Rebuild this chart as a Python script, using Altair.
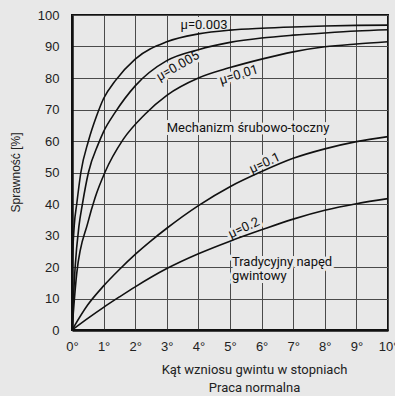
import altair as alt
import pandas as pd

# ---- data ----
series_names = ["μ=0.003", "μ=0.005", "μ=0.01", "μ=0.1", "μ=0.2"]

x_0003 = [0, 0.01, 0.07, 0.15, 0.28, 0.52, 0.78, 1.0, 1.36, 2, 3, 4, 5, 6, 7, 8, 9, 10]
y_0003 = [0, 20, 33, 40, 50, 60, 68, 73.5, 79, 86, 91.5, 94, 95.2, 95.8, 96.2, 96.5, 96.7, 96.8]

x_0005 = [0, 0.1, 0.22, 0.33, 0.52, 0.83, 1.0, 1.36, 2, 3, 4, 5, 6, 7, 8, 9, 10]
y_0005 = [0, 20, 33, 40, 50, 59, 63, 69, 77.5, 85.5, 89, 91.3, 92.7, 93.6, 94.3, 94.9, 95.3]

x_001 = [0, 0.15, 0.5, 0.73, 1.04, 1.62, 2.31, 3, 4, 5, 6, 7, 8, 9, 10]
y_001 = [0, 18, 34, 42, 50, 60.5, 68.5, 74.5, 80, 83.3, 86, 88.3, 89.9, 90.8, 91.5]

x_01 = [0, 0.5, 1, 1.5, 2, 2.5, 3, 4, 5, 6, 7, 8, 9, 10]
y_01 = [0, 8, 14, 19.2, 24, 28.3, 32.3, 39.5, 45.5, 50.3, 54.5, 57.5, 59.8, 61.4]

x_02 = [0, 0.5, 1, 1.5, 2, 3, 4, 5, 6, 7, 8, 9, 10]
y_02 = [0, 3.7, 7.2, 10.5, 13.7, 19.5, 24.2, 28.2, 31.8, 35.2, 38, 40.1, 41.7]

x_ticks = [0, 1, 2, 3, 4, 5, 6, 7, 8, 9, 10]
y_ticks = [0, 10, 20, 30, 40, 50, 60, 70, 80, 90, 100]

# curve labels (position in data units, rotation)
label_text = ["μ=0.003", "μ=0.005", "μ=0.01", "μ=0.1", "μ=0.2"]
label_x = [4.18, 3.35, 5.28, 6.1, 5.44]
label_y = [96.8, 83.8, 81.0, 53.0, 32.4]
label_rot = [0, 330, 343, 335, 335]

# region annotations
note_text = ["Mechanizm śrubowo-toczny", "Tradycyjny napęd", "gwintowy"]
note_x = [5.57, 5.06, 5.06]
note_y = [64.1, 21.6, 17.1]

BG = "#e8e8e8"

rows = []
for name, xs, ys in zip(series_names,
                        [x_0003, x_0005, x_001, x_01, x_02],
                        [y_0003, y_0005, y_001, y_01, y_02]):
    for a, b in zip(xs, ys):
        rows.append({"series": name, "angle": a, "eff": b})
df = pd.DataFrame(rows)

lab_df = pd.DataFrame({"t": label_text, "x": label_x, "y": label_y, "r": label_rot})
note_df = pd.DataFrame({"t": note_text, "x": note_x, "y": note_y})

x_scale = alt.Scale(domain=[0, 10], nice=False)
y_scale = alt.Scale(domain=[0, 100], nice=False)

x_axis = alt.Axis(
    values=x_ticks, labelExpr="datum.value + '°'", grid=True, gridColor="#4a4a4a",
    gridWidth=1, ticks=False, domain=True, domainColor="#111", domainWidth=2.5,
    labelFont="Liberation Sans", labelFontSize=13, labelColor="#222", labelPadding=10,
    labelFlush=False, labelOverlap=False,
    title=["Kąt wzniosu gwintu w stopniach", "Praca normalna"],
    titleFont="Roboto", titleFontSize=13, titleFontWeight="normal", titleColor="#222",
    titleX=182, titleY=33, titleAlign="center", titleBaseline="top", titleLineHeight=18,
)
y_axis = alt.Axis(
    values=y_ticks, grid=True, gridColor="#4a4a4a", gridWidth=1, ticks=False,
    domain=True, domainColor="#111", domainWidth=2.5,
    labelFont="Liberation Sans", labelFontSize=13, labelColor="#222", labelPadding=13,
    labelOverlap=False,
    title="Sprawność [%]", titleFont="Liberation Sans", titleFontSize=12,
    titleFontWeight="normal", titleColor="#222",
    titleX=-57, titleY=157, titleAngle=270, titleAlign="center", titleBaseline="middle",
)

X = lambda f: alt.X(f, scale=x_scale, axis=x_axis)
Y = lambda f: alt.Y(f, scale=y_scale, axis=y_axis)


def text_layers(data, align, rotate):
    enc = dict(x=X("x:Q"), y=Y("y:Q"), text="t:N")
    if rotate:
        enc["angle"] = alt.Angle("r:Q", scale=None)
    halo = alt.Chart(data).mark_text(
        font="Roboto", fontSize=13, color=BG, stroke=BG, strokeWidth=6,
        strokeJoin="round", align=align, baseline="middle"
    ).encode(**enc)
    txt = alt.Chart(data).mark_text(
        font="Roboto", fontSize=13, color="#111", align=align, baseline="middle"
    ).encode(**enc)
    return halo, txt


lines = alt.Chart(df).mark_line(
    color="#111", strokeWidth=1.6, interpolate="monotone", clip=True
).encode(x=X("angle:Q"), y=Y("eff:Q"), detail="series:N")

h1, t1 = text_layers(lab_df, "center", True)
h2, t2 = text_layers(note_df.iloc[[0]], "center", False)
h3, t3 = text_layers(note_df.iloc[[1, 2]], "left", False)

chart = alt.layer(h1, h2, h3, lines, t1, t2, t3).properties(
    width=316, height=315,
    autosize=alt.AutoSizeParams(type="none"),
    padding={"left": 72, "top": 15, "right": 7, "bottom": 66},
    background=BG,
).configure_view(stroke="#111", strokeWidth=2)

chart.save("out.html", embed_options={"renderer": "svg", "actions": False})
